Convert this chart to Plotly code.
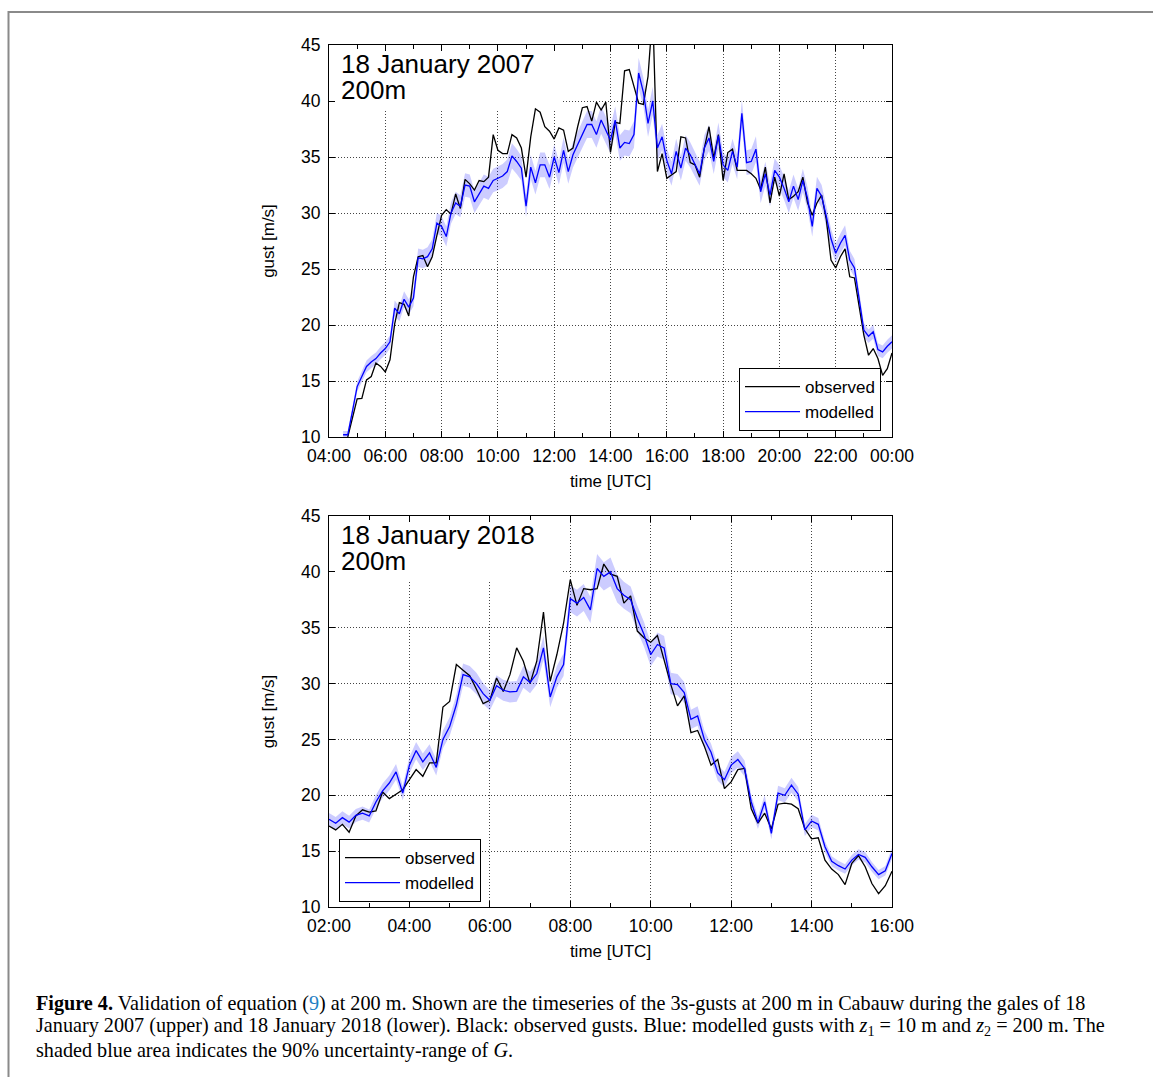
import plotly.graph_objects as go

# ---------------- data ----------------
# 18 January 2007, 10-min samples
obs07_start, mod07_start, step_h = 4 + 40/60, 4 + 30/60, 10/60
obs_2007 = [10.0, 11.8, 13.4, 13.45, 15.1, 15.4, 16.6, 16.3, 15.8, 16.9, 20.1, 22.0, 21.85, 20.8,
            24.3, 26.1, 26.2, 25.2, 26.1, 28.0, 29.8, 30.3, 29.9, 31.7, 30.4, 33.0, 32.6, 32.05,
            32.9, 32.8, 33.2, 37.0, 35.6, 35.3, 35.3, 37.0, 36.7, 35.8, 33.2, 36.8, 39.3, 39.0,
            37.7, 37.3, 36.6, 37.6, 37.4, 35.5, 35.8, 37.7, 39.4, 39.5, 38.2, 39.9, 39.2, 39.9,
            35.4, 38.1, 38.0, 42.7, 42.8, 41.3, 39.8, 39.7, 42.2, 48.0, 33.7, 35.3, 33.1, 33.4,
            33.7, 36.8, 36.7, 34.5, 34.3, 33.2, 35.8, 37.7, 34.9, 37.0, 32.9, 35.4, 35.7, 33.8,
            33.8, 33.8, 33.5, 33.1, 32.1, 34.1, 30.9, 33.2, 31.5, 33.5, 31.2, 31.5, 31.9, 33.2,
            30.9, 29.8, 30.9, 31.6, 29.4, 25.8, 25.1, 26.1, 26.8, 24.3, 24.2, 21.6, 19.1, 17.3,
            17.9, 17.0, 15.5, 16.1, 17.5]
mod_2007 = [10.2, 10.2, 12.3, 14.5, 15.4, 16.3, 16.7, 17.0, 17.5, 17.9, 18.5, 21.5, 21.0, 22.3,
            21.6, 22.4, 26.0, 25.9, 26.1, 26.8, 29.1, 28.8, 27.9, 30.0, 30.9, 30.6, 32.5, 32.4,
            31.0, 31.75, 32.4, 32.2, 32.9, 33.1, 33.3, 33.7, 35.1, 34.6, 34.0, 30.6, 34.1, 32.7,
            34.3, 34.3, 33.2, 35.0, 33.6, 35.6, 33.7, 35.2, 36.1, 37.1, 37.9, 37.9, 37.0, 38.3,
            37.4, 36.5, 38.3, 35.8, 36.3, 36.2, 37.0, 42.5, 40.8, 38.0, 40.0, 35.8, 36.8, 34.7,
            33.5, 35.5, 34.0, 35.8, 35.2, 34.3, 33.5, 35.8, 36.7, 34.6, 36.9, 34.3, 33.8, 35.5,
            34.1, 38.9, 34.5, 34.6, 35.7, 31.9, 33.5, 31.6, 33.8, 33.2, 32.2, 31.0, 32.4, 31.2,
            32.9, 31.3, 28.8, 32.2, 31.5, 29.7, 27.7, 26.4, 27.3, 28.0, 25.8, 25.1, 22.2, 19.55,
            19.0, 19.4, 17.8, 17.6, 18.1, 18.5]

# 18 January 2018, 10-min samples from 02:00
start18 = 2.0
obs_2018 = [17.25, 16.9, 17.4, 16.7, 18.15, 18.7, 18.5, 18.6, 20.3, 19.7, 20.1, 20.5, 21.4, 22.3,
            21.7, 22.9, 22.9, 27.9, 28.4, 31.7, 31.2, 30.7, 29.5, 28.2, 28.5, 30.5, 29.3, 30.8,
            33.2, 32.0, 30.0, 32.0, 36.4, 30.2, 32.6, 35.4, 39.3, 37.0, 38.5, 38.4, 38.5, 40.7,
            39.8, 39.6, 37.2, 37.85, 34.7, 34.1, 33.7, 34.3, 32.1, 29.9, 28.0, 28.9, 25.6, 25.8,
            24.4, 22.7, 23.2, 20.6, 21.2, 22.3, 22.4, 18.8, 17.5, 18.4, 17.0, 19.2, 19.3, 19.2,
            18.8, 17.0, 16.1, 16.2, 14.2, 13.4, 12.9, 12.0, 13.9, 14.6, 13.6, 12.1, 11.2, 11.9,
            13.2]
mod_2018 = [17.85, 17.5, 18.0, 17.6, 18.2, 18.4, 18.15, 19.4, 20.4, 21.1, 22.1, 20.2, 22.7, 24.0,
            23.0, 23.8, 22.5, 25.0, 26.15, 28.1, 30.8, 30.6, 30.0, 29.1, 28.5, 29.8, 29.4, 29.25,
            29.3, 30.6, 30.1, 30.9, 33.2, 28.8, 30.6, 31.7, 37.6, 37.2, 37.7, 36.6, 40.3, 39.6,
            40.0, 38.5, 37.9, 37.5, 35.85, 34.4, 32.6, 33.5, 33.2, 30.0, 29.9, 29.2, 26.8, 27.1,
            25.0, 23.85, 22.0, 21.4, 22.7, 23.2, 22.4, 19.4, 17.55, 19.4, 16.6, 20.2, 20.0, 20.9,
            20.1, 16.9, 17.7, 17.4, 15.4, 14.1, 13.7, 13.4, 14.2, 14.7, 14.45, 13.6, 12.9, 13.25,
            14.8]

band_rel = 0.032   # relative half-width of 90% uncertainty range of G

ticks_2007 = [4, 6, 8, 10, 12, 14, 16, 18, 20, 22, 24]
ticklabels_2007 = ["04:00", "06:00", "08:00", "10:00", "12:00", "14:00", "16:00",
                   "18:00", "20:00", "22:00", "00:00"]
ticks_2018 = [2, 4, 6, 8, 10, 12, 14, 16]
ticklabels_2018 = ["02:00", "04:00", "06:00", "08:00", "10:00", "12:00", "14:00", "16:00"]
y_ticks = [10, 15, 20, 25, 30, 35, 40, 45]

t_obs07 = [obs07_start + i * step_h for i in range(len(obs_2007))]
t_mod07 = [mod07_start + i * step_h for i in range(len(mod_2007))]
t_18 = [start18 + i * step_h for i in range(len(obs_2018))]

# ---------------- figure ----------------
W, H = 1153, 1077
FONT = "Liberation Sans, Arial, sans-serif"
fig = go.Figure()

def add_panel(tm, mod, to, obs, xa, ya, leg):
    lo = [v * (1 - band_rel) for v in mod]
    hi = [v * (1 + band_rel) for v in mod]
    fig.add_trace(go.Scatter(x=tm, y=lo, mode="lines", line=dict(width=0),
                             showlegend=False, hoverinfo="skip", xaxis=xa, yaxis=ya))
    fig.add_trace(go.Scatter(x=tm, y=hi, mode="lines", line=dict(width=0), fill="tonexty",
                             fillcolor="rgba(0,0,255,0.2)", showlegend=False,
                             hoverinfo="skip", xaxis=xa, yaxis=ya))
    fig.add_trace(go.Scatter(x=to, y=obs, mode="lines", name="observed",
                             line=dict(color="black", width=1.3), xaxis=xa, yaxis=ya,
                             legend=leg))
    fig.add_trace(go.Scatter(x=tm, y=mod, mode="lines", name="modelled",
                             line=dict(color="#0000ff", width=1.3), xaxis=xa, yaxis=ya,
                             legend=leg))

add_panel(t_mod07, mod_2007, t_obs07, obs_2007, "x", "y", "legend")
add_panel(t_18, mod_2018, t_18, obs_2018, "x2", "y2", "legend2")

xdom = [329 / W, 892 / W]
ydom_top = [1 - 437 / H, 1 - 45 / H]
ydom_bot = [1 - 907 / H, 1 - 516 / H]

axis_common = dict(showline=True, linecolor="black", linewidth=1, mirror="ticks",
                   ticks="inside", ticklen=6, tickcolor="black",
                   showgrid=True, gridcolor="#444444", griddash="1px,2px", gridwidth=1,
                   zeroline=False, tickfont=dict(family=FONT, size=17.5, color="black"))

def xaxis(rng, tv, tt, anchor):
    d = dict(axis_common)
    d.update(range=rng, tickvals=tv, ticktext=tt, anchor=anchor, domain=xdom,
             ticklabelstandoff=3,
             minor=dict(dtick=1, ticks="inside", ticklen=4, tickcolor="black", showgrid=False),
             title=dict(text="time [UTC]", font=dict(family=FONT, size=17, color="black"),
                        standoff=10))
    return d

def yaxis(dom, anchor):
    d = dict(axis_common)
    d.update(range=[10, 45], tickvals=y_ticks, anchor=anchor, domain=dom,
             ticklabelstandoff=4,
             title=dict(text="gust [m/s]", font=dict(family=FONT, size=17, color="black"),
                        standoff=22))
    return d

legend_common = dict(bgcolor="white", bordercolor="black", borderwidth=1,
                     font=dict(family=FONT, size=17, color="black"), tracegroupgap=0,
                     traceorder="normal", itemwidth=55)

fig.update_layout(
    width=W, height=H, margin=dict(l=0, r=0, t=0, b=0, autoexpand=False),
    paper_bgcolor="white", plot_bgcolor="white",
    xaxis=xaxis([4, 24], ticks_2007, ticklabels_2007, "y"),
    yaxis=yaxis(ydom_top, "x"),
    xaxis2=xaxis([2, 16], ticks_2018, ticklabels_2018, "y2"),
    yaxis2=yaxis(ydom_bot, "x2"),
    legend=dict(x=881 / W, y=1 - 431 / H, xanchor="right", yanchor="bottom", **legend_common),
    legend2=dict(x=339 / W, y=1 - 902 / H, xanchor="left", yanchor="bottom", **legend_common),
    showlegend=True,
)

# white boxes behind the panel titles (hide grid)
fig.add_shape(type="rect", xref="x", yref="y", x0=4, x1=4 + 234 / 28.15, y0=45 - 64 / 11.2, y1=45,
              fillcolor="white", line=dict(width=0), layer="between")
fig.add_shape(type="rect", xref="x2", yref="y2", x0=2, x1=2 + 234 / 40.21, y0=45 - 64 / 11.17, y1=45,
              fillcolor="white", line=dict(width=0), layer="between")

# panel titles
for txt, ymid in (("18 January 2007", 64), ("200m", 90),
                  ("18 January 2018", 535), ("200m", 561)):
    fig.add_annotation(x=339 / W, y=1 - ymid / H, xref="paper", yref="paper", xanchor="left",
                       yanchor="middle", align="left", showarrow=False, text=txt,
                       font=dict(family=FONT, size=26, color="black"))

# outer frame
fig.add_shape(type="path", xref="paper", yref="paper",
              path=f"M {8.5 / W} 0 L {8.5 / W} {1 - 12 / H} L 1 {1 - 12 / H}",
              line=dict(color="#8a8a8a", width=2))

# caption
SERIF = "Liberation Serif, Times New Roman, serif"
cap_lines = [
    "<b>Figure 4.</b> Validation of equation (<span style='color:#1f7fc4'>9</span>) at 200 m. "
    "Shown are the timeseries of the 3s-gusts at 200 m in Cabauw during the gales of 18",
    "January 2007 (upper) and 18 January 2018 (lower). Black: observed gusts. Blue: modelled "
    "gusts with <i>z</i><sub>1</sub> = 10 m and <i>z</i><sub>2</sub> = 200 m. The",
    "shaded blue area indicates the 90% uncertainty-range of <i>G</i>.",
]
for i, line in enumerate(cap_lines):
    fig.add_annotation(x=34 / W, y=1 - (1003 + 23.5 * i) / H, xref="paper", yref="paper",
                       xanchor="left", yanchor="middle", showarrow=False, text=line,
                       font=dict(family=SERIF, size=20.2, color="black"))

fig.write_html("out.html")
